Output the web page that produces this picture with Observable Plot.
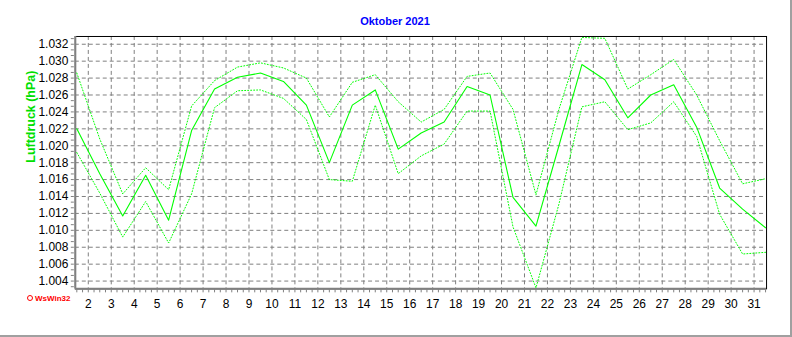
<!DOCTYPE html>
<html>
<head>
<meta charset="utf-8">
<script src="https://cdn.jsdelivr.net/npm/d3@7"></script>
<script src="https://cdn.jsdelivr.net/npm/@observablehq/plot@0.6"></script>
<style>
  html, body { margin: 0; padding: 0; background: #fff; }
  #wrap { position: relative; width: 792px; height: 337px; box-sizing: border-box;
          border-right: 2px solid #a0a0a0; border-bottom: 2px solid #a0a0a0; overflow: hidden; }
  #title { height: 30px; box-sizing: border-box; padding-top: 15px; line-height: 12px;
           text-align: center; font: bold 11px "Liberation Sans", Arial, sans-serif; color: #0000ff; }
  #chart svg { display: block; }
  #logo { position: absolute; left: 27px; top: 294px; font: bold 8px "Liberation Sans", Arial, sans-serif;
          color: #ff0000; line-height: 9px; }
  #logo span { display: inline-block; width: 4px; height: 4px; border: 1px solid #ff0000; border-radius: 50%;
               margin-right: 2px; vertical-align: 0px; }
</style>
</head>
<body>
<div id="wrap">
  <div id="title">Oktober 2021</div>
  <div id="chart"></div>
  <div id="logo"><span></span>WsWin32</div>
</div>
<script>
// Days of October 2021 (one point per day, plotted at noon)
const days = [1,2,3,4,5,6,7,8,9,10,11,12,13,14,15,16,17,18,19,20,21,22,23,24,25,26,27,28,29,30,31];
// Daily maximum air pressure (dotted, upper)
const maxP = [1.0286,1.0208,1.0143,1.0174,1.0148,1.0247,1.0277,1.0293,1.0298,1.0292,1.0280,1.0234,1.0275,1.0284,1.0252,1.0228,1.0243,1.0282,1.0286,1.0243,1.0142,1.0243,1.0328,1.0327,1.0267,1.0284,1.0302,1.0260,1.0206,1.0155,1.0161];
// Daily mean air pressure (solid)
const meanP = [1.0220,1.0167,1.0117,1.0165,1.0112,1.0218,1.0267,1.0281,1.0286,1.0276,1.0248,1.0180,1.0248,1.0266,1.0196,1.0215,1.0228,1.0270,1.0260,1.0139,1.0105,1.0200,1.0296,1.0278,1.0233,1.0260,1.0272,1.0222,1.0150,1.0125,1.0103];
// Daily minimum air pressure (dotted, lower)
const minP = [1.0192,1.0144,1.0092,1.0134,1.0085,1.0143,1.0245,1.0265,1.0266,1.0256,1.0231,1.0160,1.0158,1.0248,1.0167,1.0188,1.0202,1.0241,1.0241,1.0104,1.0032,1.0131,1.0246,1.0252,1.0219,1.0227,1.0252,1.0211,1.0119,1.0072,1.0074];
// Axis tick labels
const xTicks = [2,3,4,5,6,7,8,9,10,11,12,13,14,15,16,17,18,19,20,21,22,23,24,25,26,27,28,29,30,31];
const yTicks = [1.004,1.006,1.008,1.010,1.012,1.014,1.016,1.018,1.020,1.022,1.024,1.026,1.028,1.030,1.032];
const yLabel = "Luftdruck (hPa)";

const rows = days.map((d, i) => ({t: d + 0.5, max: maxP[i], mean: meanP[i], min: minP[i]}));
const xDomain = [days[0] + 0.5, days[days.length - 1] + 0.5];
const yDomain = d3.extent(maxP.concat(meanP, minP));
const xMinor = d3.range(xDomain[0], xDomain[1] + 0.001, 0.25);
const yStep = (yTicks[1] - yTicks[0]) / 3;
const yMinor = d3.range(yTicks[0] - 3 * yStep, yTicks[yTicks.length - 1] + 3 * yStep, yStep)
  .filter(v => v >= yDomain[0] && v <= yDomain[1]);

const green = "#00ff00";
const grid = "#808080";

const chart = Plot.plot({
  width: 792,
  height: 282,
  marginLeft: 75,
  marginRight: 24,
  marginTop: 6,
  marginBottom: 23,
  style: {fontFamily: "'Liberation Sans', Arial, sans-serif", fontSize: "12px", background: "transparent", color: "black"},
  x: {domain: xDomain, insetLeft: 1.5, insetRight: 1},
  y: {domain: yDomain, insetTop: 1, insetBottom: 1},
  marks: [
    Plot.ruleX(xTicks, {stroke: grid, strokeDasharray: "4,3"}),
    Plot.ruleY(yTicks, {stroke: grid, strokeDasharray: "4,3"}),
    Plot.frame({stroke: "black"}),
    Plot.ruleX([xDomain[0]], {stroke: grid, strokeWidth: 2, dx: -1.5}),
    Plot.ruleY([yDomain[0]], {stroke: grid, strokeWidth: 2, dy: 1}),
    Plot.axisY(yMinor, {anchor: "left", tickSize: 3, stroke: grid, fill: "none", label: null, dx: -1}),
    Plot.axisY(yTicks, {anchor: "left", tickSize: 0, tickPadding: 7, tickFormat: d3.format(".3f"), fill: "black", label: null}),
    Plot.axisX(xMinor, {anchor: "bottom", tickSize: 3, stroke: grid, fill: "none", label: null, dy: 1}),
    Plot.axisX(xTicks, {anchor: "bottom", tickSize: 0, tickPadding: 11, tickFormat: d => String(d), fill: "black", label: null}),
    Plot.line(rows, {x: "t", y: "max", stroke: green, strokeWidth: 1, strokeDasharray: "1,2"}),
    Plot.line(rows, {x: "t", y: "min", stroke: green, strokeWidth: 1, strokeDasharray: "1,2"}),
    Plot.line(rows, {x: "t", y: "mean", stroke: green, strokeWidth: 1.1}),
    Plot.text([yLabel], {frameAnchor: "left", rotate: -90, dx: -44, fill: "#00e000", fontWeight: "bold", fontSize: 12.5})
  ]
});
document.getElementById("chart").appendChild(chart);
</script>
</body>
</html>
